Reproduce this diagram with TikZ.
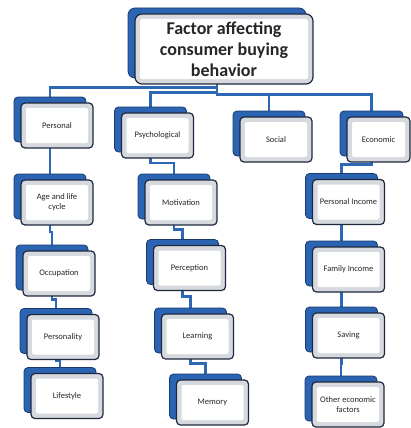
\documentclass[tikz,border=0pt]{standalone}
\usepackage{fontspec}
\setmainfont{Carlito}
\usepackage{tikz}
\usetikzlibrary{positioning}
\usetikzlibrary{calc,backgrounds}
\definecolor{boxblue}{RGB}{43,100,178}
\definecolor{boxedge}{RGB}{24,58,110}
\definecolor{linkblue}{RGB}{44,104,182}
\definecolor{frameink}{RGB}{30,40,62}
\definecolor{bevel}{RGB}{214,218,222}
\tikzset{
  backbox/.style={draw=boxedge, fill=boxblue, line width=0.8pt, rounded corners=4pt,
    minimum width=72pt, minimum height=45pt},
  frontbox/.style={draw=frameink, fill=bevel, line width=1.2pt, rounded corners=4pt,
    minimum width=72pt, minimum height=45pt, align=center, text=black!85,
    font=\fontsize{8.5}{10}\selectfont,
    path picture={\fill[white, rounded corners=2pt]
      ([shift={(5pt,5pt)}]path picture bounding box.south west) rectangle
      ([shift={(-5pt,-5pt)}]path picture bounding box.north east);}},
  link/.style={draw=linkblue, line width=2.6pt},
  elbow/.style={to path={(\tikztostart) |- ($(\tikztostart)!0.5!(\tikztotarget)$) -| (\tikztotarget)}}
}
% back box plus front box
\newcommand{\factorbox}[4][]{%
  \node[backbox, #1, xshift=-7pt, yshift=6pt] (#2-b) at (#3) {};
  \node[frontbox, #1] (#2) at (#3) {#4};
}

\begin{document}
\begin{tikzpicture}[x=1pt, y=-1pt]

% Page
\useasboundingbox (0,0) rectangle (411,428);

% Title
\factorbox[minimum width=178pt, minimum height=70pt, rounded corners=7pt,
  font=\bfseries\fontsize{18}{21}\selectfont]{title}{224,49}
  {Factor affecting\\consumer buying\\behavior}

% First level
\factorbox{personal}{57,125.5}{Personal}
\factorbox{psych}{157.5,135.5}{Psychological}
\factorbox{social}{276,139.5}{Social}
\factorbox[minimum width=63pt]{economic}{378.5,139.5}{Economic}

% Personal column
\factorbox{age}{57,202.5}{Age and life\\cycle}
\factorbox{occupation}{59,273.5}{Occupation}
\factorbox{personality}{63,337}{Personality}
\factorbox{lifestyle}{67,396}{Lifestyle}

% Psychological column
\factorbox{motivation}{181,202.5}{Motivation}
\factorbox{perception}{189.5,268}{Perception}
\factorbox{learning}{197.5,336.5}{Learning}
\factorbox{memory}{212.5,402.5}{Memory}

% Economic column
\factorbox{pincome}{348.5,202}{Personal Income}
\factorbox{fincome}{348.5,269.5}{Family Income}
\factorbox{saving}{348.5,335.5}{Saving}
\factorbox{other}{348,404.5}{Other economic\\factors}

% Connectors
\begin{scope}[on background layer]
  \draw[link] (title-b.south) to[elbow] (personal-b.north);
  \draw[link] (title-b.south) to[elbow] (psych-b.north);
  \draw[link] (title-b.south) to[elbow] (social-b.north);
  \draw[link] (title-b.south) to[elbow] (economic-b.north);

  \draw[link] (personal-b.south) to[elbow] (age-b.north);
  \draw[link] (age-b.south) to[elbow] (occupation-b.north);
  \draw[link] (occupation-b.south) to[elbow] (personality-b.north);
  \draw[link] (personality-b.south) to[elbow] (lifestyle-b.north);

  \draw[link] (psych-b.south) to[elbow] (motivation-b.north);
  \draw[link] (motivation-b.south) to[elbow] (perception-b.north);
  \draw[link] (perception-b.south) to[elbow] (learning-b.north);
  \draw[link] (learning-b.south) to[elbow] (memory-b.north);

  \draw[link] (economic-b.south) to[elbow] (pincome-b.north);
  \draw[link] (pincome-b.south) to[elbow] (fincome-b.north);
  \draw[link] (fincome-b.south) to[elbow] (saving-b.north);
  \draw[link] (saving-b.south) to[elbow] (other-b.north);
\end{scope}

\end{tikzpicture}
\end{document}
